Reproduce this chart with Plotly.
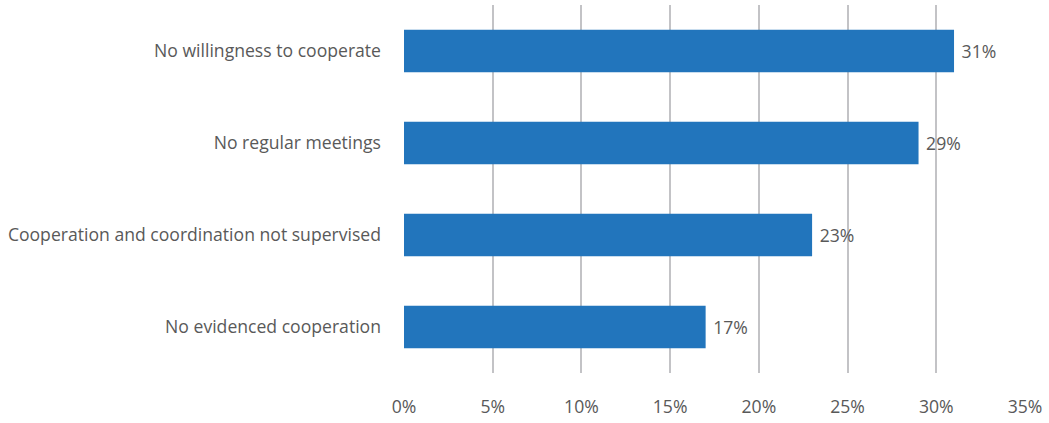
import plotly.graph_objects as go

# Reasons for lacking cooperation, share of responses (%)
categories = [
    "No willingness to cooperate",
    "No regular meetings",
    "Cooperation and coordination not supervised",
    "No evidenced cooperation",
]
shares = [31, 29, 23, 17]
x_ticks = [0, 5, 10, 15, 20, 25, 30, 35]
x_tick_labels = [f"{v}%" for v in x_ticks]

TEXT_COLOR = "#595959"
FONT = "Open Sans, Lato, sans-serif"
SIZE = 17.6

fig = go.Figure(
    go.Bar(
        y=categories,
        x=shares,
        orientation="h",
        marker=dict(color="#2275bc", line=dict(width=0)),
        text=[f"{v}%" for v in shares],
        texttemplate=" %{text}",
        textposition="outside",
        cliponaxis=False,
        textfont=dict(family=FONT, size=SIZE, color=TEXT_COLOR),
    )
)

fig.update_layout(
    width=1049,
    height=423,
    margin=dict(l=404, r=24, t=5, b=47),
    paper_bgcolor="white",
    plot_bgcolor="white",
    bargap=0.54,
    showlegend=False,
    font=dict(family=FONT, size=SIZE, color=TEXT_COLOR),
    xaxis=dict(
        range=[0, 35],
        tickvals=x_ticks,
        ticktext=x_tick_labels,
        showgrid=True,
        gridcolor="#c3c3c6",
        gridwidth=2,
        zeroline=False,
        showline=False,
        ticks="",
        ticklabelstandoff=21,
        tickfont=dict(family=FONT, size=SIZE, color=TEXT_COLOR),
    ),
    yaxis=dict(
        categoryorder="array",
        categoryarray=categories[::-1],
        showgrid=False,
        zeroline=False,
        showline=False,
        ticks="",
        ticklabelstandoff=22,
        tickfont=dict(family=FONT, size=SIZE, color=TEXT_COLOR),
    ),
)

fig.write_html("out.html")
